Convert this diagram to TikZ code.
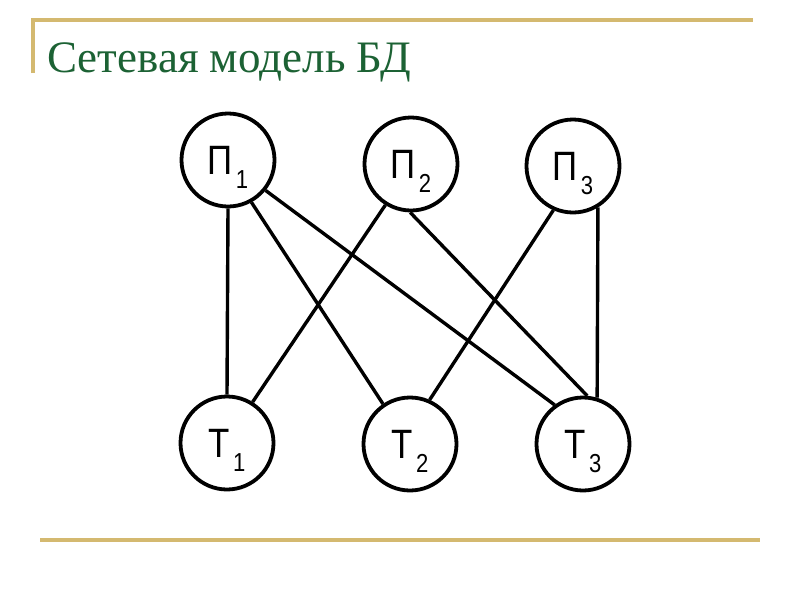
\documentclass[tikz,border=0pt]{standalone}
\usepackage{fontspec}
\setmainfont{Liberation Serif}
\newfontfamily\labfont[FakeStretch=0.85]{Liberation Sans}
\definecolor{titlegreen}{RGB}{28,98,52}
\definecolor{rulegold}{RGB}{212,185,112}
\tikzset{
  ent/.style={circle, draw=black, line width=3.8pt, minimum size=93pt, inner sep=0pt,
    font=\labfont\fontsize{41}{41}\selectfont},
  link/.style={draw=black, line width=3.4pt},
  rule/.style={draw=rulegold, line width=3.2pt},
}
\newcommand{\lbl}[2]{#1\kern3pt\smash{\raisebox{-14pt}{\fontsize{26}{26}\selectfont #2}}}
\begin{document}
\begin{tikzpicture}[x=1pt,y=-1pt]
\useasboundingbox (0,0) rectangle (800,600);
\fill[white] (0,0) rectangle (800,600);
% frame rules
\coordinate (tl) at (33,20);
\coordinate (tr) at (753,20);
\coordinate (vb) at (33,73);
\coordinate (bl) at (40,540);
\coordinate (br) at (760,540);
\draw[rule] (vb) -- (tl) -- (tr);
\draw[rule] (bl) -- (br);
% title
\node[anchor=base west, inner sep=0pt, text=titlegreen, font=\fontsize{45}{45}\selectfont] (title) at (47,72) {Сетевая модель БД};
% nodes
\node[ent] (P1) at (228,160) {\lbl{П}{1}};
\node[ent] (P2) at (411,164) {\lbl{П}{2}};
\node[ent] (P3) at (573,166) {\lbl{П}{3}};
\node[ent] (T1) at (227,443) {\lbl{Т}{1}};
\node[ent] (T2) at (410,444) {\lbl{Т}{2}};
\node[ent] (T3) at (583,444) {\lbl{Т}{3}};
% links
\draw[link] (P1.-90) -- (T1.90);
\draw[link] (P1.-61) -- (T2.124);
\draw[link] (P1.-39) -- (T3.126);
\draw[link] (P2.-122) -- (T1.58);
\draw[link] (P2.-91) -- (T3.85);
\draw[link] (P3.-114) -- (T2.66);
\draw[link] (P3.-59) -- (T3.73);
\end{tikzpicture}
\end{document}
